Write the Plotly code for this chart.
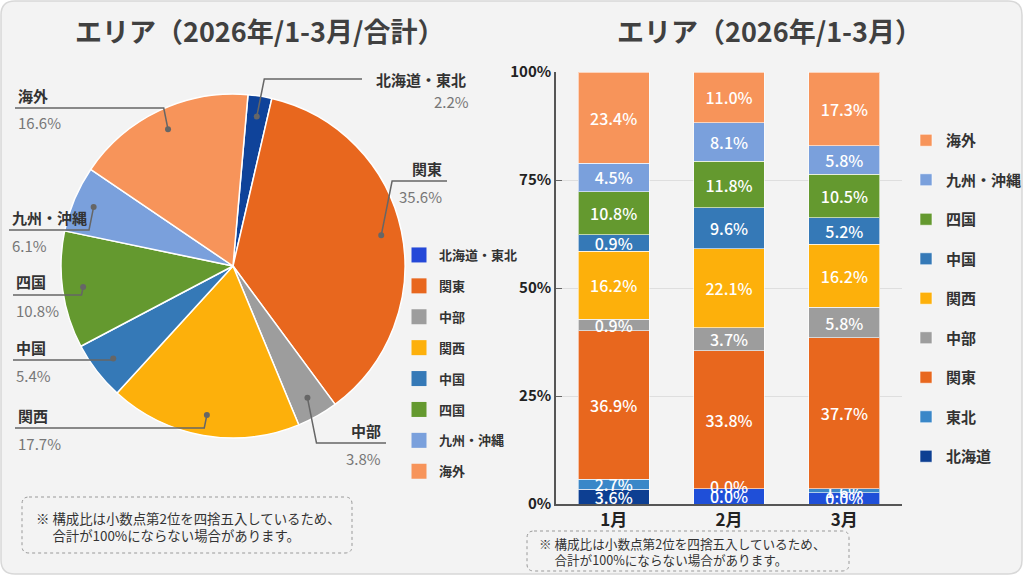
import math
import plotly.graph_objects as go

# ---- data ----
pie_labels = ["北海道・東北", "関東", "中部", "関西", "中国", "四国", "九州・沖縄", "海外"]
pie_values = [2.2, 35.6, 3.8, 17.7, 5.4, 10.8, 6.1, 16.6]
pie_colors = ["#0f439a", "#e8671e", "#9d9d9d", "#fdb00b", "#3579b7", "#64992f", "#7aa0dc", "#f7945a"]
pie_legend_colors = ["#2448d8", "#e8671e", "#9d9d9d", "#fdb00b", "#3579b7", "#64992f", "#7aa0dc", "#f7945a"]

months = ["1月", "2月", "3月"]
bar_series = ["北海道", "東北", "関東", "中部", "関西", "中国", "四国", "九州・沖縄", "海外"]
bar_colors = ["#0d3f92", "#3a87c8", "#e8671e", "#9d9d9d", "#fdb00b", "#3579b7", "#64992f", "#7aa0dc", "#f7945a"]
hokkaido_colors = ["#0d3f92", "#1f4fd8", "#1f4fd8"]
# segment heights as drawn
bar_heights = {
    "北海道": [3.4, 3.5, 2.6],
    "東北": [2.3, 0.0, 0.9],
    "関東": [34.4, 32.0, 35.0],
    "中部": [2.7, 5.3, 7.0],
    "関西": [15.7, 18.3, 14.6],
    "中国": [3.8, 9.5, 6.2],
    "四国": [10.0, 10.7, 10.0],
    "九州・沖縄": [6.6, 8.9, 6.6],
    "海外": [21.1, 11.8, 17.1],
}
# printed labels
bar_labels = {
    "北海道": ["3.6%", "0.0%", "0.0%"],
    "東北": ["2.7%", "0.0%", "1.6%"],
    "関東": ["36.9%", "33.8%", "37.7%"],
    "中部": ["0.9%", "3.7%", "5.8%"],
    "関西": ["16.2%", "22.1%", "16.2%"],
    "中国": ["0.9%", "9.6%", "5.2%"],
    "四国": ["10.8%", "11.8%", "10.5%"],
    "九州・沖縄": ["4.5%", "8.1%", "5.8%"],
    "海外": ["23.4%", "11.0%", "17.3%"],
}
y_ticks = [0, 25, 50, 75, 100]
y_ticktext = ["0%", "25%", "50%", "75%", "100%"]

note_lines = ["※ 構成比は小数点第2位を四捨五入しているため、", "　 合計が100%にならない場合があります。"]

W, H = 1024, 576
FONT = "Noto Sans CJK JP"


def px(x):
    return x / W


def py(y):
    return 1 - y / H


def rrect(x0, y0, x1, y1, r):
    # rounded rect path in paper coords (pixel inputs)
    pts = [
        f"M{px(x0 + r)},{py(y0)}", f"L{px(x1 - r)},{py(y0)}",
        f"Q{px(x1)},{py(y0)} {px(x1)},{py(y0 + r)}", f"L{px(x1)},{py(y1 - r)}",
        f"Q{px(x1)},{py(y1)} {px(x1 - r)},{py(y1)}", f"L{px(x0 + r)},{py(y1)}",
        f"Q{px(x0)},{py(y1)} {px(x0)},{py(y1 - r)}", f"L{px(x0)},{py(y0 + r)}",
        f"Q{px(x0)},{py(y0)} {px(x0 + r)},{py(y0)}", "Z",
    ]
    return " ".join(pts)


def note(text, x, y, xanchor="center", **kw):
    return dict(text=text, x=px(x), y=py(y), xref="paper", yref="paper",
                xanchor=xanchor, yanchor="middle", showarrow=False, **kw)


fig = go.Figure()

# ---- stacked bars ----
annotations = []
base = [0.0] * len(months)
for i, (name, col) in enumerate(zip(bar_series, bar_colors)):
    fig.add_trace(go.Bar(
        x=months, y=bar_heights[name], name=name, legendgroup=name, legendrank=100 - i,
        marker=dict(color=hokkaido_colors if name == "北海道" else col,
                    line=dict(color="rgba(255,255,255,0.6)", width=1)),
        text=bar_labels[name], texttemplate="%{text}", textposition="inside",
        insidetextanchor="middle", textangle=0, constraintext="none",
        textfont=dict(color="white", size=16, family=FONT, weight=500),
    ))
    # zero-height segments still carry a printed label
    for j, h in enumerate(bar_heights[name]):
        if h == 0:
            annotations.append(dict(x=months[j], y=base[j] + 0.6, xref="x", yref="y",
                                    text=bar_labels[name][j], showarrow=False,
                                    font=dict(color="white", size=16, weight=500)))
        base[j] += h

# ---- pie ----
cx, cy, rad = 233, 266, 172
rotation = 5
fig.add_trace(go.Pie(
    labels=pie_labels, values=pie_values, sort=False, direction="clockwise",
    rotation=rotation, textinfo="none", hoverinfo="label+percent",
    marker=dict(colors=pie_colors, line=dict(color="white", width=1.5)),
    domain=dict(x=[px(cx - rad), px(cx + rad)], y=[py(cy + rad), py(cy - rad)]),
    showlegend=False,
))

# pie legend entries
for name, col in zip(pie_labels, pie_legend_colors):
    fig.add_trace(go.Scatter(
        x=[None], y=[None], mode="markers", name=name, legend="legend2",
        legendgroup="p_" + name,
        marker=dict(symbol="square", size=15, color=col),
        hoverinfo="skip",
    ))

fig.update_layout(
    width=W, height=H, margin=dict(l=0, r=0, t=0, b=0, autoexpand=False),
    paper_bgcolor="white", plot_bgcolor="rgba(0,0,0,0)",
    font=dict(family=FONT, color="#333"),
    barmode="stack", bargap=0.385,
    xaxis=dict(domain=[px(556), px(902)], type="category", showline=True, linecolor="#555",
               linewidth=1.5, ticks="", tickfont=dict(size=17, color="#222", weight="bold"),
               showgrid=False, automargin=False),
    yaxis=dict(domain=[py(504), py(72)], range=[0, 100], tickvals=y_ticks, ticktext=y_ticktext,
               showline=True, linecolor="#555", linewidth=1.5, ticks="inside", ticklen=6,
               tickcolor="#666", gridcolor="#dedede", gridwidth=1, automargin=False,
               tickfont=dict(size=15, color="#222", weight="bold"), zeroline=False),
    legend=dict(x=px(906), y=py(124), xanchor="left", yanchor="top",
                traceorder="grouped", tracegroupgap=17,
                font=dict(size=15, color="#333", weight="bold"),
                bgcolor="rgba(0,0,0,0)"),
    legend2=dict(x=px(399), y=py(240), xanchor="left", yanchor="top",
                 traceorder="grouped", tracegroupgap=11,
                 font=dict(size=13, color="#333", weight="bold"),
                 bgcolor="rgba(0,0,0,0)"),
)

shapes = [
    dict(type="path", path=rrect(1, 1, 1022, 574, 14), xref="paper", yref="paper",
         fillcolor="#f3f3f3", line=dict(color="#d8d8d8", width=1.5), layer="below"),
    dict(type="path", path=rrect(22, 497, 352, 553, 7), xref="paper", yref="paper",
         line=dict(color="#999", width=1, dash="dot"), layer="below"),
    dict(type="path", path=rrect(527, 531, 849, 571, 7), xref="paper", yref="paper",
         line=dict(color="#999", width=1, dash="dot"), layer="below"),
]
annotations += [
    note("<b>エリア（2026年/1-3月/合計）</b>", 259, 30, font=dict(size=27, color="#404040")),
    note("<b>エリア（2026年/1-3月）</b>", 769, 30, font=dict(size=27, color="#404040")),
    note("<br>".join(note_lines), 34, 526, xanchor="left", align="left",
         font=dict(size=13.4, color="#333")),
    note("<br>".join(note_lines), 537, 551, xanchor="left", align="left",
         font=dict(size=12.6, color="#333")),
]

# ---- pie callouts: dot at slice middle, leader line, name + percent ----
# label style per slice: (line y px, end x px, placement)
callout = {
    "北海道・東北": (79, 362, "beside"),
    "関東": (181, 447, "above"),
    "中部": (443, 386, "above"),
    "関西": (428, 15, "above"),
    "中国": (360, 13, "above"),
    "四国": (295, 13, "above"),
    "九州・沖縄": (230, 9, "above"),
    "海外": (108, 15, "above"),
}
total = sum(pie_values)
start = rotation
for name, val in zip(pie_labels, pie_values):
    span = val / total * 360
    mid = math.radians(start + span / 2)
    start += span
    dx, dy = cx + 0.88 * rad * math.sin(mid), cy - 0.88 * rad * math.cos(mid)
    ly, ex, mode = callout[name]
    side = 1 if ex > dx else -1
    kx = dx + side * 0.2 * abs(ly - dy)
    shapes.append(dict(type="path", xref="paper", yref="paper",
                       path=f"M{px(dx)},{py(dy)} L{px(kx)},{py(ly)} L{px(ex)},{py(ly)}",
                       line=dict(color="#666", width=1.5)))
    shapes.append(dict(type="circle", xref="paper", yref="paper",
                       x0=px(dx - 3), x1=px(dx + 3), y0=py(dy + 3), y1=py(dy - 3),
                       fillcolor="#666", line=dict(width=0)))
    pct = f"{val:.1f}%"
    if mode == "beside":
        annotations.append(note(f"<b>{name}</b>", ex + 12, ly, xanchor="left",
                                font=dict(size=15, color="#333")))
        annotations.append(note(pct, ex + 109, ly + 22, xanchor="right",
                                font=dict(size=15, color="#777")))
    else:
        anchor = "right" if side > 0 else "left"
        tx = ex - 3 if side > 0 else ex + 1
        annotations.append(note(f"<b>{name}</b>", tx, ly - 13, xanchor=anchor,
                                font=dict(size=15, color="#333")))
        annotations.append(note(pct, tx, ly + 15, xanchor=anchor,
                                font=dict(size=15, color="#777")))

fig.update_layout(shapes=shapes, annotations=annotations)

# page body has a default margin; drop it so the figure sits at the window corner
fig.write_html("out.html", config={"displayModeBar": False},
               post_script="document.body.style.margin='0';")
